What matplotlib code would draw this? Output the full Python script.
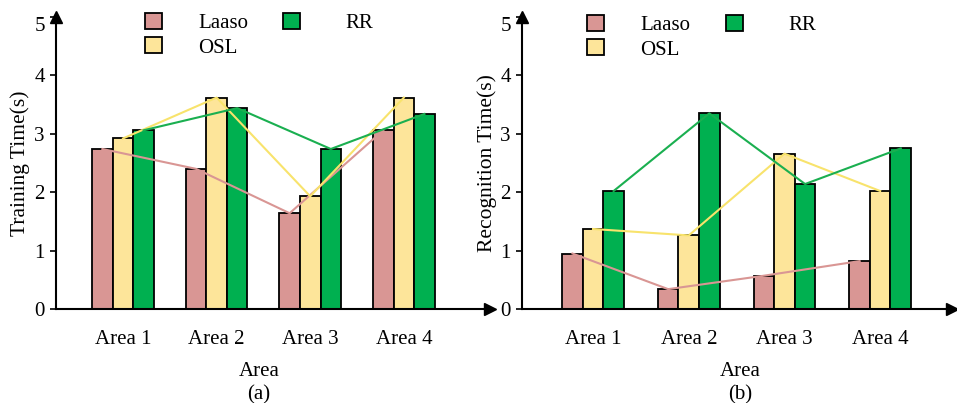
import matplotlib
matplotlib.use("Agg")
import matplotlib.pyplot as plt
import matplotlib.transforms as mtransforms
import numpy as np
from matplotlib.patches import Patch

areas = ["Area 1", "Area 2", "Area 3", "Area 4"]
series = ["Laaso", "OSL", "RR"]

train_laaso = [2.74, 2.40, 1.64, 3.06]
train_osl = [2.92, 3.62, 1.93, 3.62]
train_rr = [3.06, 3.44, 2.74, 3.34]

recog_laaso = [0.95, 0.34, 0.57, 0.82]
recog_osl = [1.37, 1.26, 2.66, 2.02]
recog_rr = [2.02, 3.35, 2.14, 2.75]

bar_colors = ["#d99694", "#fde59a", "#00b050"]
line_colors = ["#d99694", "#f8e36c", "#1aaf50"]

plt.rcParams["font.family"] = ["Liberation Serif", "DejaVu Serif"]
plt.rcParams["font.size"] = 15

fig = plt.figure(figsize=(9.57, 4.03), dpi=100)
W, H = 957, 403


def px_axes(x0, x1, y_top, y_bot):
    return fig.add_axes([x0 / W, 1 - y_bot / H, (x1 - x0) / W, (y_bot - y_top) / H])


def add_legend(handles, labels, x_px, y_px, textpad):
    leg = fig.legend(handles, labels, frameon=False, loc="upper left",
                     bbox_to_anchor=(x_px / W, 1 - y_px / H), bbox_transform=fig.transFigure,
                     borderpad=0, borderaxespad=0, handlelength=0.8, handleheight=0.8,
                     handletextpad=textpad, labelspacing=0.2)
    return leg


def draw_panel(ax, data, xlim, width, ylabel, ylab_x, xlab_x, tag, leg_x, leg_y, rr_x):
    x = np.arange(len(areas))
    offsets = [-width, 0, width]
    for vals, off, bc, lc in zip(data, offsets, bar_colors, line_colors):
        ax.bar(x + off, vals, width=width, color=bc, edgecolor="black",
               linewidth=1.3, zorder=2)
        ax.plot(x + off, vals, color=lc, linewidth=1.5, zorder=3)

    ax.set_xlim(*xlim)
    ax.set_ylim(0, 5)
    ax.set_xticks(x)
    ax.set_xticklabels(areas)
    ax.set_yticks([0, 1, 2, 3, 4, 5])
    ax.tick_params(axis="x", length=0, pad=15)
    ax.tick_params(axis="y", direction="out", length=4, width=1.2, pad=4)
    # top label sits a little below the arrow tip
    top = ax.yaxis.get_major_ticks()[-1].label1
    top.set_transform(top.get_transform() +
                      mtransforms.ScaledTranslation(0, -7 / 100, fig.dpi_scale_trans))
    for s in ["top", "right"]:
        ax.spines[s].set_visible(False)
    for s in ["left", "bottom"]:
        ax.spines[s].set_linewidth(1.5)
    ax.plot([0], [1], marker="^", color="black", markersize=8,
            transform=ax.transAxes, clip_on=False)
    ax.plot([1], [0], marker=">", color="black", markersize=8,
            transform=ax.transAxes, clip_on=False)

    ax.text(ylab_x, 0.5, ylabel, rotation=90, ha="center", va="center",
            transform=ax.transAxes, fontsize=15.5)
    ax.text(xlab_x, -0.215, "Area", ha="center", va="center", transform=ax.transAxes)
    ax.text(xlab_x, -0.295, tag, ha="center", va="center", transform=ax.transAxes)

    handles = [Patch(facecolor=c, edgecolor="black", linewidth=1.3) for c in bar_colors]
    add_legend(handles[:2], series[:2], leg_x, leg_y, 1.75)
    add_legend(handles[2:], series[2:], rr_x, leg_y, 2.2)


ax1 = px_axes(56, 490, 17, 309)
draw_panel(ax1, [train_laaso, train_osl, train_rr], (-0.715, 3.92), 0.22,
           "Training Time(s)", -0.083, 0.468, "(a)", 145, 13, 283)

ax2 = px_axes(522, 952, 17, 309)
draw_panel(ax2, [recog_laaso, recog_osl, recog_rr], (-0.742, 3.75), 0.215,
           "Recognition Time(s)", -0.081, 0.508, "(b)", 587, 15, 726)

fig.savefig("out.png", dpi=100)
